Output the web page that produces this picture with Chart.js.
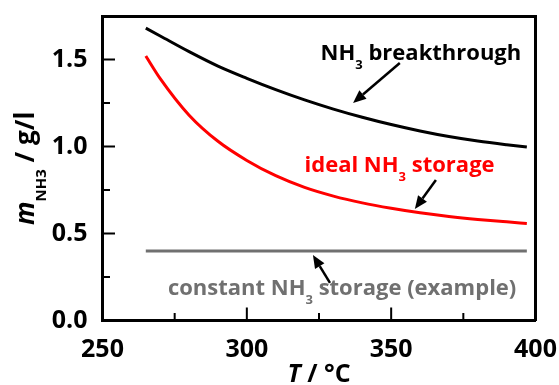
<!DOCTYPE html>
<html>
<head>
<meta charset="utf-8">
<script src="https://cdn.jsdelivr.net/npm/chart.js@4.4.1/dist/chart.umd.min.js"></script>
<style>
  html, body { margin: 0; padding: 0; background: #fff; }
  #wrap { width: 559px; height: 385px; }
</style>
</head>
<body>
<div id="wrap"><canvas id="nh3Chart"></canvas></div>
<script>
// temperature grid (°C) and stored NH3 mass (g/l)
const temps = [265, 270, 280, 290, 300, 310, 320, 330, 340, 350, 360, 370, 380, 390, 397];
const breakthrough = [1.68, 1.635, 1.545, 1.462, 1.392, 1.327, 1.268, 1.215, 1.168, 1.126, 1.089, 1.057, 1.031, 1.010, 0.997];
const idealStorage = [1.52, 1.39, 1.18, 1.03, 0.92, 0.832, 0.765, 0.715, 0.676, 0.645, 0.619, 0.598, 0.581, 0.567, 0.558];
const constTemps = [265, 397];
const constantStorage = [0.4, 0.4];

const xTicks = [250, 300, 350, 400];
const yTicks = [0.0, 0.5, 1.0, 1.5];
const xMinorTicks = [275, 325, 375];
const yMinorTicks = [0.25, 0.75, 1.25];

const FONT = "'Open Sans', sans-serif";
const GREY = '#707070';

const toPoints = (xs, ys) => xs.map((x, i) => ({ x, y: ys[i] }));

// text pieces: [text, isSubscript, isItalic]
const curveLabels = [
  { parts: [['NH'], ['3', true], [' breakthrough']], x: 360.3, y: 1.497, color: '#000' },
  { parts: [['ideal NH'], ['3', true], [' storage']], x: 352.9, y: 0.856, color: '#ff0000' },
  { parts: [['constant NH'], ['3', true], [' storage (example)']], x: 333.0, y: 0.147, color: GREY },
];

const arrows = [
  { from: [353.0, 1.480], to: [336.8, 1.250] },
  { from: [365.5, 0.807], to: [358.2, 0.641] },
  { from: [328.8, 0.216], to: [322.9, 0.376] },
];

function drawParts(ctx, parts, x, y, size, subSize, subDrop, align) {
  const fontFor = (p) => `${p[2] ? 'italic ' : ''}bold ${p[1] ? subSize : size}px ${FONT}`;
  let total = 0;
  parts.forEach(p => { ctx.font = fontFor(p); total += ctx.measureText(p[0]).width; });
  let cx = align === 'center' ? x - total / 2 : x;
  ctx.textAlign = 'left';
  ctx.textBaseline = 'alphabetic';
  parts.forEach(p => {
    ctx.font = fontFor(p);
    ctx.fillText(p[0], cx, p[1] ? y + subDrop : y);
    cx += ctx.measureText(p[0]).width;
  });
}

function drawArrow(ctx, x1, y1, x2, y2) {
  const ang = Math.atan2(y2 - y1, x2 - x1);
  const head = 13, half = 5.5;
  const bx = x2 - head * Math.cos(ang), by = y2 - head * Math.sin(ang);
  ctx.strokeStyle = '#000';
  ctx.fillStyle = '#000';
  ctx.lineWidth = 2.5;
  ctx.beginPath();
  ctx.moveTo(x1, y1);
  ctx.lineTo(bx, by);
  ctx.stroke();
  ctx.beginPath();
  ctx.moveTo(x2, y2);
  ctx.lineTo(bx + half * Math.sin(ang), by - half * Math.cos(ang));
  ctx.lineTo(bx - half * Math.sin(ang), by + half * Math.cos(ang));
  ctx.closePath();
  ctx.fill();
}

// ticks pointing into the plot
const innerTicks = {
  id: 'innerTicks',
  afterDraw(chart) {
    const { ctx, chartArea: a } = chart;
    const xs = chart.scales.x, ys = chart.scales.y;
    ctx.save();
    ctx.fillStyle = '#000';
    xTicks.forEach(v => ctx.fillRect(xs.getPixelForValue(v) - 1, a.bottom - 13, 2, 13));
    xMinorTicks.forEach(v => ctx.fillRect(xs.getPixelForValue(v) - 1, a.bottom - 7.5, 2, 7.5));
    yTicks.forEach(v => ctx.fillRect(a.left, ys.getPixelForValue(v) - 1, 12.5, 2));
    yMinorTicks.forEach(v => ctx.fillRect(a.left, ys.getPixelForValue(v) - 1, 7.5, 2));
    ctx.restore();
  }
};

// curve labels, arrows and axis titles
const annotations = {
  id: 'annotations',
  afterDraw(chart) {
    const { ctx, chartArea: a } = chart;
    const xs = chart.scales.x, ys = chart.scales.y;
    ctx.save();
    curveLabels.forEach(l => {
      ctx.fillStyle = l.color;
      drawParts(ctx, l.parts, xs.getPixelForValue(l.x), ys.getPixelForValue(l.y), 22, 13, 9, 'center');
    });

    arrows.forEach(ar => drawArrow(ctx,
      xs.getPixelForValue(ar.from[0]), ys.getPixelForValue(ar.from[1]),
      xs.getPixelForValue(ar.to[0]), ys.getPixelForValue(ar.to[1])));

    ctx.fillStyle = '#000';
    drawParts(ctx, [['T', false, true], [' / °C']], (a.left + a.right) / 2, 382, 25, 14, 0, 'center');

    ctx.translate(34, (a.top + a.bottom) / 2);
    ctx.rotate(-Math.PI / 2);
    drawParts(ctx, [['m', false, true], ['NH3', true], [' / g/l']], 0, 0, 26, 15, 12, 'center');
    ctx.restore();
  }
};

const lineStyle = { fill: false, pointRadius: 0, borderWidth: 3, cubicInterpolationMode: 'monotone' };

// drop the overflow padding Chart.js reserves for edge tick labels
const noEdgePadding = (s) => { s.paddingTop = 0; s.paddingBottom = 0; s.paddingLeft = 0; s.paddingRight = 0; };

const frameBorder = { display: true, color: '#000', width: 3 };
const tickFont = { family: FONT, size: 25, weight: 'bold' };

new Chart(document.getElementById('nh3Chart'), {
  type: 'line',
  data: {
    datasets: [
      { label: 'NH3 breakthrough', data: toPoints(temps, breakthrough), borderColor: '#000', ...lineStyle },
      { label: 'ideal NH3 storage', data: toPoints(temps, idealStorage), borderColor: '#ff0000', ...lineStyle },
      { label: 'constant NH3 storage', data: toPoints(constTemps, constantStorage), borderColor: GREY, ...lineStyle },
    ],
  },
  options: {
    responsive: true,
    maintainAspectRatio: false,
    animation: false,
    layout: { padding: { top: 16, right: 23.5, left: 0, bottom: 0 } },
    plugins: { legend: { display: false }, tooltip: { enabled: false } },
    scales: {
      x: {
        type: 'linear',
        min: 250,
        max: 400,
        afterBuildTicks: (s) => { s.ticks = xTicks.map(v => ({ value: v })); },
        afterFit: (s) => { s.height = 64.5; noEdgePadding(s); },
        grid: { display: false, drawTicks: false },
        border: frameBorder,
        ticks: { padding: 14, color: '#000', font: tickFont },
      },
      y: {
        type: 'linear',
        min: 0,
        max: 1.75,
        afterBuildTicks: (s) => { s.ticks = yTicks.map(v => ({ value: v })); },
        afterFit: (s) => { s.width = 102.5; noEdgePadding(s); },
        grid: { display: false, drawTicks: false },
        border: frameBorder,
        ticks: { padding: 15, color: '#000', font: tickFont, callback: (v) => Number(v).toFixed(1) },
      },
      // unlabelled top and right edges close the box
      xTop: {
        type: 'linear',
        position: 'top',
        min: 250,
        max: 400,
        afterFit: (s) => { s.height = 0; noEdgePadding(s); },
        grid: { display: false, drawTicks: false },
        border: frameBorder,
        ticks: { display: false },
      },
      yRight: {
        type: 'linear',
        position: 'right',
        min: 0,
        max: 1.75,
        afterFit: (s) => { s.width = 0; noEdgePadding(s); },
        grid: { display: false, drawTicks: false },
        border: frameBorder,
        ticks: { display: false },
      },
    },
  },
  plugins: [innerTicks, annotations],
});
</script>
</body>
</html>
